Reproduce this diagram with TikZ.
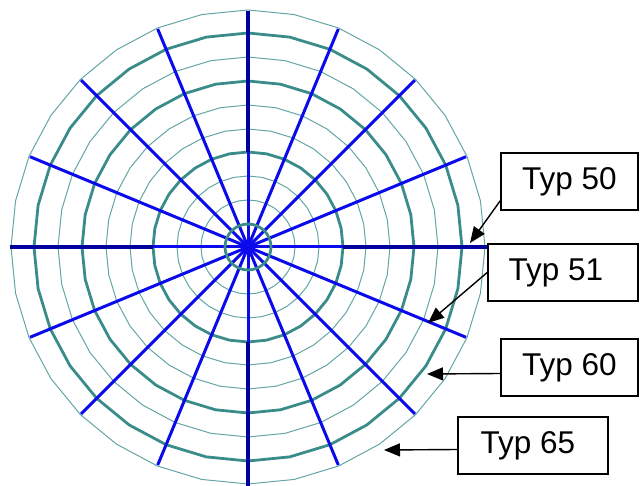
\documentclass[tikz,border=0pt]{standalone}
\usepackage{fontspec}
\setmainfont{Liberation Sans}
\usetikzlibrary{arrows.meta,calc}
\definecolor{ringdark}{RGB}{58,140,138}
\definecolor{ringlight}{RGB}{100,165,165}
\definecolor{spokeblue}{RGB}{10,10,235}
\definecolor{axisnavy}{RGB}{0,0,160}
\tikzset{
  ringthick/.style={draw=ringdark, line width=2.8pt, line join=round},
  ringthin/.style={draw=ringlight, line width=1pt, line join=round},
  spokeline/.style={draw=spokeblue, line width=3pt},
  axisline/.style={draw=axisnavy, line width=4.5pt},
  typbox/.style={draw=black, line width=1.6pt, minimum height=57pt, inner sep=0pt,
    font=\fontsize{31.5}{38}\selectfont},
  pointer/.style={draw=black, line width=1.4pt, -{Triangle[length=16pt,width=13pt]}}
}
\begin{document}
\begin{tikzpicture}[x=1pt,y=-1pt]
\useasboundingbox (0,0) rectangle (640,486);
\coordinate (c) at (248,247);
\begin{scope}[shift={(248,247)}]
  \foreach \r in {47,71,118,142,190,237}
    \draw[ringthin] plot[samples=33,domain=0:360,variable=\t] ({\r*cos(\t)},{\r*sin(\t)}) -- cycle;
  \foreach \r in {95,166,214}
    \draw[ringthick] plot[samples=33,domain=0:360,variable=\t] ({\r*cos(\t)},{\r*sin(\t)}) -- cycle;
  \foreach \a in {0,22.5,...,337.5}
    \draw[spokeline] (0,0) -- ({236*cos(\a)},{236*sin(\a)});
  \draw[axisline] (95,0) -- (239,0);
  \draw[axisline] (-95,0) -- (-238,0);
  \draw[axisline] (0,-95) -- (0,-236);
  \draw[axisline] (0,95) -- (0,240);
  \draw[ringthick] plot[samples=33,domain=0:360,variable=\t] ({23*cos(\t)},{23*sin(\t)}) -- cycle;
\end{scope}

\node[typbox, minimum width=137pt] (b50) at (569.5,181.5) {Typ 50};
\node[typbox, minimum width=150pt] (b51) at (563,272.5) {\hspace*{-14pt}Typ 51};
\node[typbox, minimum width=137pt] (b60) at (569.5,367.5) {Typ 60};
\node[typbox, minimum width=150pt] (b65) at (533,445.5) {\hspace*{-10pt}Typ 65};

\coordinate (t50) at (470,243);
\coordinate (t51) at (428,323);
\coordinate (t60) at (427,374);
\coordinate (t65) at (384,450);

\draw[pointer] ($(b50.south west)+(0,10pt)$) -- (t50);
\draw[pointer] (b51.west) -- (t51);
\draw[pointer] ($(b60.west)+(0,-6pt)$) -- (t60);
\draw[pointer] ($(b65.west)+(0,-4pt)$) -- (t65);
\end{tikzpicture}
\end{document}
